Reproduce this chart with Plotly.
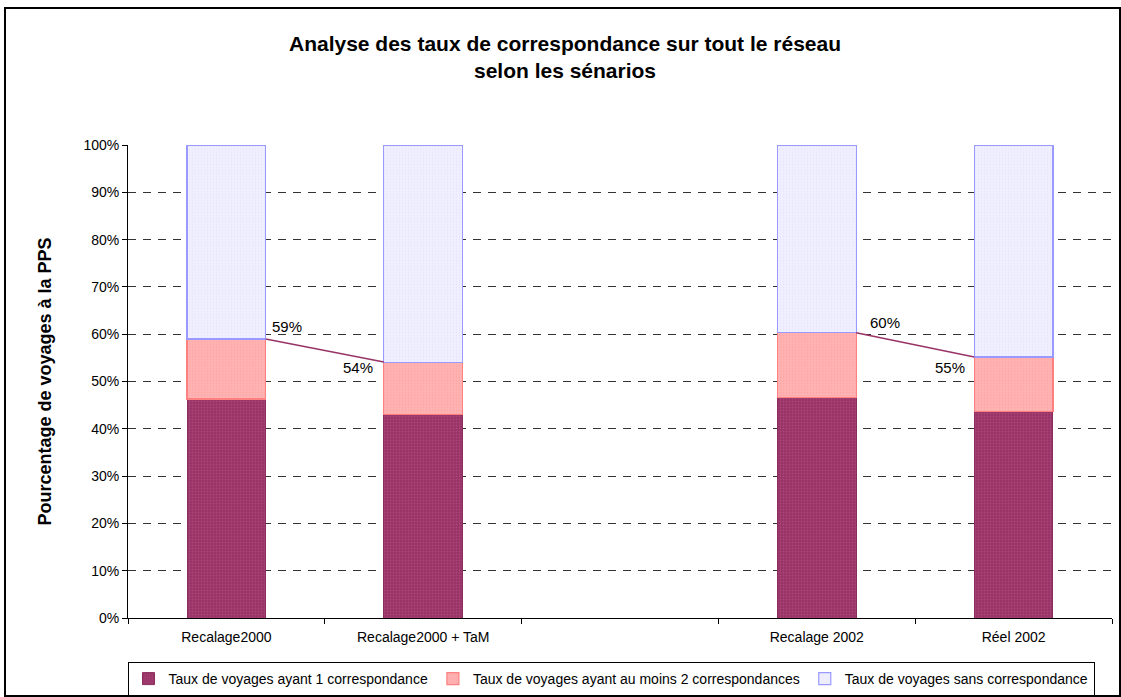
import plotly.graph_objects as go

# ---- data ----
categories = ["Recalage2000", "Recalage2000 + TaM", " ", "Recalage 2002", "Réel 2002"]
series_names = [
    "Taux de voyages ayant 1 correspondance",
    "Taux de voyages ayant au moins 2 correspondances",
    "Taux de voyages sans correspondance",
]
one_corr = [46.3, 43.1, None, 46.7, 43.6]
two_plus = [12.7, 11.0, None, 13.6, 11.6]
no_corr = [41.0, 45.9, None, 39.7, 44.8]
y_ticks = [0, 10, 20, 30, 40, 50, 60, 70, 80, 90, 100]
y_tick_labels = [f"{v}%" for v in y_ticks]
title_text = "Analyse des taux de correspondance sur tout le réseau<br>selon les sénarios"
y_title = "Pourcentage de voyages à la PPS"

FONT = "Arial, Liberation Sans, sans-serif"
W, H = 1121, 697
ML, MR, MT, MB = 128, 9, 145, 79
PW, PH = W - ML - MR, H - MT - MB

fig = go.Figure()
fig.add_trace(go.Bar(
    x=categories, y=one_corr, name=series_names[0],
    marker=dict(color="#993366", line=dict(color="#8a2d5c", width=1),
                pattern=dict(shape=".", fgcolor="#b55a87", size=3, solidity=0.3)),
))
fig.add_trace(go.Bar(
    x=categories, y=two_plus, name=series_names[1],
    marker=dict(color="#FFB3B3", line=dict(color="#FF8080", width=1.2),
                pattern=dict(shape=".", fgcolor="#FF9999", size=3, solidity=0.3)),
))
fig.add_trace(go.Bar(
    x=categories, y=no_corr, name=series_names[2],
    marker=dict(color="#F0F0FF", line=dict(color="#9999FF", width=1.2),
                pattern=dict(shape=".", fgcolor="#DDDDF8", size=3, solidity=0.3)),
))

# series lines connecting tops of the middle series between adjacent bars
half = 0.2
totals = []
for a, b in zip(one_corr, two_plus):
    totals.append(None if a is None else a + b)
pairs = [(0, 1), (3, 4)]
for i, j in pairs:
    fig.add_shape(type="line", xref="x", yref="y",
                  x0=i + half, y0=totals[i], x1=j - half, y1=totals[j],
                  line=dict(color="#993366", width=1.5))

# labels
label_cfg = {0: dict(xa="left", xs=4, ys=12, xo=half),
             1: dict(xa="right", xs=-9, ys=-5, xo=-half),
             3: dict(xa="left", xs=12, ys=10, xo=half),
             4: dict(xa="right", xs=-7, ys=-11, xo=-half)}
for idx, c in label_cfg.items():
    fig.add_annotation(x=idx + c["xo"], y=totals[idx], xref="x", yref="y",
                       text=f"{round(totals[idx])}%", showarrow=False,
                       xanchor=c["xa"], yanchor="middle",
                       xshift=c["xs"], yshift=c["ys"],
                       font=dict(family=FONT, size=15, color="black"))

# outer frame
fig.add_shape(type="rect", xref="paper", yref="paper",
              x0=(5 - ML) / PW, x1=(1120 - ML) / PW,
              y0=(H - MB - 696) / PH, y1=(H - MB - 8) / PH,
              line=dict(color="black", width=2), fillcolor="rgba(0,0,0,0)")

fig.update_layout(
    width=W, height=H,
    margin=dict(l=ML, r=MR, t=MT, b=MB, autoexpand=False),
    barmode="stack", bargap=0.6,
    paper_bgcolor="white", plot_bgcolor="white",
    font=dict(family=FONT, size=14, color="black"),
    title=dict(text=title_text, x=565 / W, xanchor="center",
               y=1 - 51 / H, yanchor="middle", yref="container",
               font=dict(family=FONT, size=21, color="black", weight="bold")),
    showlegend=True,
    legend=dict(orientation="h", x=-0.0005, xanchor="left",
                y=(H - MB - 662) / PH, yanchor="top",
                bordercolor="black", borderwidth=1, bgcolor="white",
                font=dict(family=FONT, size=14), itemwidth=30,
                traceorder="normal", tracegroupgap=0),
)
fig.update_xaxes(type="category", categoryorder="array", categoryarray=categories,
                 range=[-0.5, 4.5],
                 showline=True, linecolor="black", linewidth=1,
                 ticks="outside", tickson="boundaries", ticklen=5, tickcolor="black",
                 ticklabelstandoff=6,
                 showgrid=False, tickfont=dict(size=14))
fig.update_yaxes(range=[0, 100], tickvals=y_ticks, ticktext=y_tick_labels,
                 showline=True, linecolor="black", linewidth=1,
                 ticks="outside", ticklen=5, tickcolor="black",
                 showgrid=True, gridcolor="#333333", griddash="8px,7px", gridwidth=1,
                 zeroline=False, tickfont=dict(size=14),
                 title=dict(text=y_title, standoff=27,
                            font=dict(family=FONT, size=18, weight="bold")))

fig.write_html("out.html", config={"displayModeBar": False},
               post_script="document.body.style.margin='0';")
